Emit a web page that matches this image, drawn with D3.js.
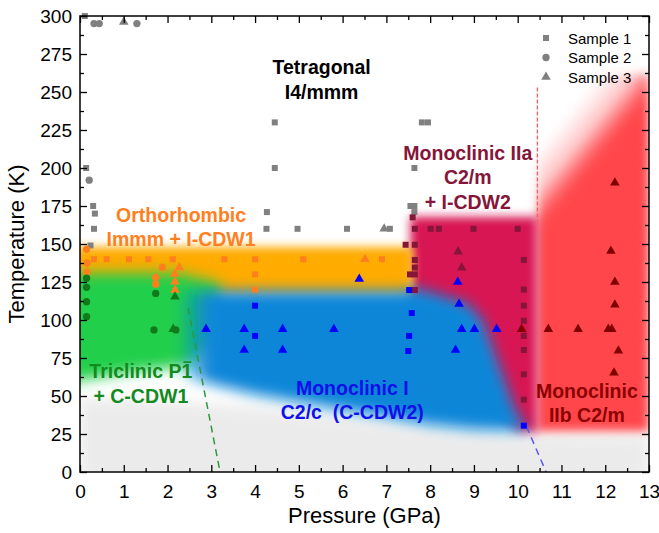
<!DOCTYPE html>
<html>
<head>
<meta charset="utf-8">
<script src="https://cdn.jsdelivr.net/npm/d3@7"></script>
<style>
body { margin: 0; background: #fff; }
text { font-family: "Liberation Sans", Arial, sans-serif; }
</style>
</head>
<body>
<script>
// ---- data: [pressure GPa, temperature K] ----
// Tetragonal I4/mmm (grey)
var tetraS1 = [[0.11,300],[0.14,200],[0.30,175],[0.34,170],[0.32,160],[0.24,149],
               [4.45,230],[4.45,200],[4.27,171],[4.26,160],[4.97,160],[6.1,160],[7.08,160],
               [7.64,200],[7.55,175],[7.64,175],[7.64,171],[7.81,230],[7.95,230]];
var tetraS2 = [[0.32,295],[0.44,295],[1.3,295],[0.21,192]];
var tetraS3 = [[1.0,296],[6.95,160]];
// Orthorhombic Immm (orange)
var orthoS1 = [[0.32,140],[0.61,140],[1.12,140],[1.56,140],[2.12,140],[3.3,140],[4.0,140],
               [5.1,140],[6.9,140],[4.0,130],[4.0,120]];
var orthoS2 = [[0.15,146.5],[0.16,137.5],[0.16,131.5],[1.88,134.7],[1.73,128],[1.73,123.6]];
var orthoS3 = [[2.27,134.5],[2.17,130.3],[2.17,125.2],[2.17,119.8],[6.51,140]];
// Triclinic P-1 (green)
var tricS2 = [[0.15,127.5],[0.15,121.5],[0.15,112],[0.15,102.2],[1.73,117.5],[1.69,93.5],[2.19,93.5]];
var tricS3 = [[2.17,115.3],[2.13,94]];
// Monoclinic I C2/c (blue)
var monoIS1 = [[4.0,109.4],[4.0,89.5],[7.52,119.7],[7.58,104.6],[7.52,89.5],[7.5,79.6],[10.14,30.5]];
var monoIS3 = [[2.88,94],[3.75,94],[4.63,94],[5.8,94],[3.75,80.3],[4.63,80.3],[6.38,127],
               [8.63,125],[8.66,110.5],[8.72,94],[9.01,94],[9.52,94],[8.58,80.3]];
// Monoclinic IIa C2/m (crimson)
var monoIIaS1 = [[7.6,167.5],[7.65,160],[8.01,160],[8.2,160],[8.99,160],[10.0,160],[7.44,149.5],
                 [7.65,149.5],[7.65,139.5],[7.65,134.5],[7.54,130],[7.65,130],[7.65,119.7],
                 [10.14,139.5],[10.14,120],[10.14,109.4],[10.14,99.5],[10.14,89.5],[10.14,80.3],
                 [10.14,64.3],[10.14,47.6]];
var monoIIaS3 = [[8.64,145],[8.72,134.4]];
// Monoclinic IIb C2/m (dark red)
var monoIIbS3 = [[12.22,190.3],[12.13,145.4],[12.22,125],[12.22,110],[10.09,94],[10.7,94],
                 [11.38,94],[12.07,94],[12.15,94],[12.3,79.8],[12.2,65.3]];

// phase areas (boundaries, GPa / K)
var baseArea   = [[0,-10],[13,-10],[13,24],[10,25],[8,29],[6,37],[4,43],[2,47],[0,49]];
var redArea    = [[10.45,27],[13,27],[13,262],[10.45,262]];
var crimsonArea= [[7.55,168],[10.45,168],[10.45,26],[10.0,27],[9.5,40],[8.8,100],[7.55,112]];
var orangeArea = [[-0.5,116],[-0.5,148],[7.6,148],[7.6,116]];
var greenArea  = [[-0.5,58],[-0.5,131],[2.2,131],[3.2,124],[3.1,84],[2.5,70],[1.2,66]];
var blueArea   = [[2.3,119],[7.4,119],[7.7,121],[8.3,116],[8.85,111],[9.2,100],[9.45,80],
                  [9.7,60],[9.95,40],[10.2,30],[10.2,27],[9,28],[8,31],[6,41],[4,51],[3,58],
                  [2.3,63]];

// dashed boundary lines
var greenDash = [[2.47,108],[3.2,0]];
var blueDash  = [[10.2,30],[10.65,0]];
var redDash   = [[10.45,253],[10.45,160]];

var xTicks = d3.range(0, 14, 1);
var xMinor = d3.range(0.5, 13, 1);
var yTicks = d3.range(0, 301, 25);
var yMinor = d3.range(12.5, 300, 25);

var labels = [
  {lines: ["Tetragonal", "I4/mmm"], p: 5.52, t: 261.6, color: "#000"},
  {lines: ["Orthorhombic", "Immm + I-CDW1"], p: 2.31, t: 164.7, color: "#ff7f1e"},
  {lines: ["Monoclinic IIa", "C2/m", "+ I-CDW2"], p: 8.86, t: 205.3, color: "#851539"},
  {lines: ["Triclinic P1", "+ C-CDW1"], p: 1.39, t: 61.8, color: "#138a1e"},
  {lines: ["Monoclinic I", "C2/c  (C-CDW2)"], p: 6.22, t: 50.7, color: "#1010e8"},
  {lines: ["Monoclinic", "IIb C2/m"], p: 11.58, t: 48.7, color: "#8b0000"}
];
var legendNames = ["Sample 1", "Sample 2", "Sample 3"];

var margin = {top: 16, right: 10, bottom: 61, left: 80};
var width = 659 - margin.left - margin.right;
var height = 533 - margin.top - margin.bottom;

var svg = d3.select("body").append("svg")
    .attr("width", 659)
    .attr("height", 533);
var defs = svg.append("defs");

[["blur5", 5], ["blur7", 7], ["blur4", 4]].forEach(function(b) {
    defs.append("filter").attr("id", b[0])
        .attr("x", "-30%").attr("y", "-30%").attr("width", "160%").attr("height", "160%")
      .append("feGaussianBlur").attr("stdDeviation", b[1]);
});
defs.append("clipPath").attr("id", "plotclip")
  .append("rect").attr("width", width).attr("height", height);

var g = svg.append("g")
    .attr("transform", "translate(" + margin.left + "," + margin.top + ")");

var x = d3.scaleLinear().domain([0, 13]).range([0, width]);
var y = d3.scaleLinear().domain([0, 300]).range([height, 0]);

var area = d3.line().x(function(d) { return x(d[0]); }).y(function(d) { return y(d[1]); })
    .curve(d3.curveLinearClosed);
var line = d3.line().x(function(d) { return x(d[0]); }).y(function(d) { return y(d[1]); });

// red gradient, fading to white towards the top left
var grad = defs.append("linearGradient").attr("id", "redgrad")
    .attr("gradientUnits", "userSpaceOnUse")
    .attr("x1", x(9.72)).attr("y1", y(186))
    .attr("x2", x(10.64)).attr("y2", y(164));
grad.append("stop").attr("offset", 0).attr("stop-color", "#ff474c").attr("stop-opacity", 0);
grad.append("stop").attr("offset", 0.5).attr("stop-color", "#ff474c").attr("stop-opacity", 0.3);
grad.append("stop").attr("offset", 0.8).attr("stop-color", "#ff474c").attr("stop-opacity", 0.8);
grad.append("stop").attr("offset", 1).attr("stop-color", "#ff474c").attr("stop-opacity", 1);

// blue fades in from the green side
var bgrad = defs.append("linearGradient").attr("id", "bluegrad")
    .attr("gradientUnits", "userSpaceOnUse")
    .attr("x1", x(2.2)).attr("y1", 0)
    .attr("x2", x(2.95)).attr("y2", 0);
bgrad.append("stop").attr("offset", 0).attr("stop-color", "#0a86d8").attr("stop-opacity", 0);
bgrad.append("stop").attr("offset", 1).attr("stop-color", "#0a86d8").attr("stop-opacity", 1);

var bg = g.append("g").attr("clip-path", "url(#plotclip)");
var areas = [
    [baseArea, "#e8e8e8", "blur7", 0.85],
    [redArea, "url(#redgrad)", "blur5", 1],
    [crimsonArea, "#d81452", "blur5", 1],
    [orangeArea, "#ffab00", "blur5", 1],
    [greenArea, "#22cf4c", "blur7", 1],
    [blueArea, "url(#bluegrad)", "blur7", 1]
];
areas.forEach(function(a) {
    bg.append("path")
        .attr("d", area(a[0]))
        .attr("fill", a[1])
        .attr("opacity", a[3])
        .attr("filter", "url(#" + a[2] + ")");
});

bg.append("path").attr("d", line(greenDash)).attr("fill", "none")
    .attr("stroke", "#2c9a3c").attr("stroke-width", 1.5).attr("stroke-dasharray", "7,5");
bg.append("path").attr("d", line(blueDash)).attr("fill", "none")
    .attr("stroke", "#5a5af0").attr("stroke-width", 1.5).attr("stroke-dasharray", "7,5");
bg.append("path").attr("d", line(redDash)).attr("fill", "none")
    .attr("stroke", "#ff5a5f").attr("stroke-width", 1.3).attr("stroke-dasharray", "4,2");

// points
var shapes = {
    square: d3.symbol().type(d3.symbolSquare).size(36),
    circle: d3.symbol().type(d3.symbolCircle).size(42),
    triangle: d3.symbol().type(d3.symbolTriangle).size(40)
};
var sets = [
    [tetraS1, "square", "#808080"], [tetraS2, "circle", "#808080"], [tetraS3, "triangle", "#808080"],
    [orthoS1, "square", "#ff7f1e"], [orthoS2, "circle", "#ff7f1e"], [orthoS3, "triangle", "#ff7f1e"],
    [tricS2, "circle", "#117a1b"], [tricS3, "triangle", "#117a1b"],
    [monoIIaS1, "square", "#851539"], [monoIIaS3, "triangle", "#851539"],
    [monoIS1, "square", "#0000ff"], [monoIS3, "triangle", "#0000ff"],
    [monoIIbS3, "triangle", "#800000"]
];
var pts = g.append("g");
sets.forEach(function(s) {
    pts.selectAll(null).data(s[0]).enter()
        .append("path")
            .attr("d", shapes[s[1]]())
            .attr("transform", function(d) { return "translate(" + x(d[0]) + "," + y(d[1]) + ")"; })
            .attr("fill", s[2]);
});

// phase labels
labels.forEach(function(l) {
    l.lines.forEach(function(txt, i) {
        var t = g.append("text")
            .attr("x", x(l.p))
            .attr("y", y(l.t) + i * 24.5)
            .attr("text-anchor", "middle")
            .attr("font-size", "19.5px")
            .attr("font-weight", "bold")
            .attr("fill", l.color)
            .style("white-space", "pre")
            .text(txt);
        if (txt === "Triclinic P1") {
            // bar over the 1 of P-1
            var n = t.node();
            var ext = n.getExtentOfChar(n.getNumberOfChars() - 1);
            g.append("line")
                .attr("x1", ext.x + 2).attr("x2", ext.x + ext.width - 1)
                .attr("y1", ext.y + 2).attr("y2", ext.y + 2)
                .attr("stroke", l.color).attr("stroke-width", 1.6);
        }
    });
});

// axes
function styleAxis(sel) {
    sel.select(".domain").remove();
    sel.selectAll("line").attr("stroke", "#000").attr("stroke-width", 1.3);
    sel.selectAll("text").attr("font-size", "19px").attr("fill", "#000")
        .style("font-family", "'Liberation Sans', Arial, sans-serif");
}
g.append("g").attr("transform", "translate(0," + height + ")")
    .call(d3.axisBottom(x).tickValues(xTicks).tickSize(-7).tickPadding(13).tickFormat(d3.format("d")))
    .call(styleAxis);
g.append("g").attr("transform", "translate(0," + height + ")")
    .call(d3.axisBottom(x).tickValues(xMinor).tickSize(-4).tickFormat(""))
    .call(styleAxis);
g.append("g")
    .call(d3.axisTop(x).tickValues(xTicks).tickSize(-7).tickFormat(""))
    .call(styleAxis);
g.append("g")
    .call(d3.axisTop(x).tickValues(xMinor).tickSize(-4).tickFormat(""))
    .call(styleAxis);
g.append("g")
    .call(d3.axisLeft(y).tickValues(yTicks).tickSize(-7).tickPadding(8).tickFormat(d3.format("d")))
    .call(styleAxis);
g.append("g")
    .call(d3.axisLeft(y).tickValues(yMinor).tickSize(-4).tickFormat(""))
    .call(styleAxis);
g.append("g").attr("transform", "translate(" + width + ",0)")
    .call(d3.axisRight(y).tickValues(yTicks).tickSize(-7).tickFormat(""))
    .call(styleAxis);
g.append("g").attr("transform", "translate(" + width + ",0)")
    .call(d3.axisRight(y).tickValues(yMinor).tickSize(-4).tickFormat(""))
    .call(styleAxis);

g.append("rect")
    .attr("width", width).attr("height", height)
    .attr("fill", "none").attr("stroke", "#000").attr("stroke-width", 1.5);

// legend
var lg = g.append("g").attr("transform", "translate(" + (width - 103) + ",22)");
["square", "circle", "triangle"].forEach(function(s, i) {
    lg.append("path").attr("d", shapes[s]())
        .attr("transform", "translate(0," + (i * 19.5) + ")")
        .attr("fill", "#808080");
    lg.append("text").attr("x", 22).attr("y", i * 19.5 + 5.5)
        .attr("font-size", "15px").attr("fill", "#000")
        .text(legendNames[i]);
});

// axis titles
g.append("text")
    .attr("x", width / 2)
    .attr("y", height + 51)
    .attr("text-anchor", "middle")
    .attr("font-size", "22px")
    .text("Pressure (GPa)");
g.append("text")
    .attr("x", -(height / 2))
    .attr("y", -56)
    .attr("text-anchor", "middle")
    .attr("font-size", "22px")
    .attr("transform", "rotate(-90)")
    .text("Temperature (K)");
</script>
</body>
</html>
